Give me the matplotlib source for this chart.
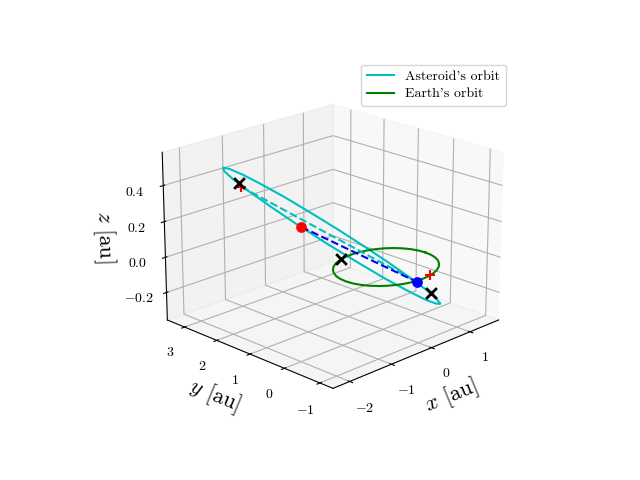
import matplotlib
matplotlib.use('Agg')
from matplotlib import pyplot as plt

plt.rcParams['font.family'] = ['cmr10', 'DejaVu Sans']
plt.rcParams['mathtext.fontset'] = 'cm'
plt.rcParams['axes.formatter.use_mathtext'] = True

# asteroid orbit
ast_x = [0.69, 0.944, 1.095, 1.133, 1.055, 0.868, 0.581, 0.216, -0.201, -0.643, -1.081, -1.484, -1.824,
         -2.078, -2.229, -2.267, -2.189, -2.002, -1.715, -1.35, -0.933, -0.491, -0.053, 0.35, 0.69]
ast_y = [-0.84, -0.473, -0.02, 0.49, 1.021, 1.538, 2.005, 2.39, 2.667, 2.816, 2.83, 2.705, 2.45,
         2.083, 1.63, 1.12, 0.589, 0.072, -0.395, -0.78, -1.057, -1.206, -1.22, -1.095, -0.84]
ast_z = [-0.208, -0.228, -0.223, -0.192, -0.136, -0.061, 0.03, 0.129, 0.231, 0.326, 0.411, 0.478, 0.524,
         0.544, 0.539, 0.508, 0.453, 0.377, 0.286, 0.187, 0.085, -0.01, -0.095, -0.162, -0.208]

# earth orbit
earth_x = [1.07, 1.055, 1.01, 0.936, 0.836, 0.713, 0.57, 0.412, 0.244, 0.07, -0.104, -0.272, -0.43, -0.573, -0.696, -0.796, -0.87, -0.915,
           -0.93, -0.915, -0.87, -0.796, -0.696, -0.573, -0.43, -0.272, -0.104, 0.07, 0.244, 0.412, 0.57, 0.713, 0.836, 0.936, 1.01, 1.055, 1.07]
earth_y = [0, 0.174, 0.342, 0.5, 0.643, 0.766, 0.866, 0.94, 0.985, 1, 0.985, 0.94, 0.866, 0.766, 0.643, 0.5, 0.342, 0.174,
           0, -0.174, -0.342, -0.5, -0.643, -0.766, -0.866, -0.94, -0.985, -1, -0.985, -0.94, -0.866, -0.766, -0.643, -0.5, -0.342, -0.174, 0]
earth_z = [-0.008] * 37

# points
red_dot = [-1.935, 0.05, 0.362]
blue_dot = [1.185, 0.33, -0.211]
red_plus_x = [-1.68, 0.845]
red_plus_y = [2.1, -0.39]
red_plus_z = [0.43, -0.092]
cross_x = [-1.705, -0.43, 0.695]
cross_y = [2.13, 0.71, -0.57]
cross_z = [0.45, 0.028, -0.171]

x_ticks = [-2, -1, 0, 1]
y_ticks = [-1, 0, 1, 2, 3]
z_ticks = [-0.2, 0.0, 0.2, 0.4]

fig = plt.figure(figsize=(6.4, 4.8), dpi=100)
ax = fig.add_subplot(projection='3d')

ax.plot(ast_x, ast_y, ast_z, color='c', label="Asteroid's orbit")
ax.plot(earth_x, earth_y, earth_z, color='g', label="Earth's orbit")
ax.plot([red_plus_x[0], blue_dot[0]], [red_plus_y[0], blue_dot[1]], [red_plus_z[0], blue_dot[2]], color='c', linestyle='--')
ax.plot([red_dot[0], blue_dot[0]], [red_dot[1], blue_dot[1]], [red_dot[2], blue_dot[2]], color='b', linestyle='--')

ax.scatter(*red_dot, color='r', s=45, depthshade=False)
ax.scatter(*blue_dot, color='b', s=45, depthshade=False)
ax.scatter(red_plus_x, red_plus_y, red_plus_z, color='r', marker='+', s=60, linewidths=1.5, depthshade=False)
ax.scatter(cross_x, cross_y, cross_z, color='k', marker='x', s=60, linewidths=2, depthshade=False)

ax.set_xlim(-2.39, 1.77, view_margin=0)
ax.set_ylim(-1.36, 3.55, view_margin=0)
ax.set_zlim(-0.358, 0.582, view_margin=0)
ax.set_xticks(x_ticks)
ax.set_yticks(y_ticks)
ax.set_zticks(z_ticks)
ax.tick_params(labelsize=10)
ax.set_xlabel(r'$x$ [au]', fontsize=16)
ax.set_ylabel(r'$y$ [au]', fontsize=16)
ax.set_zlabel(r'$z$ [au]', fontsize=16)
ax.view_init(elev=20, azim=-135)
ax.legend(labelspacing=0.35)

plt.savefig('out.png')
